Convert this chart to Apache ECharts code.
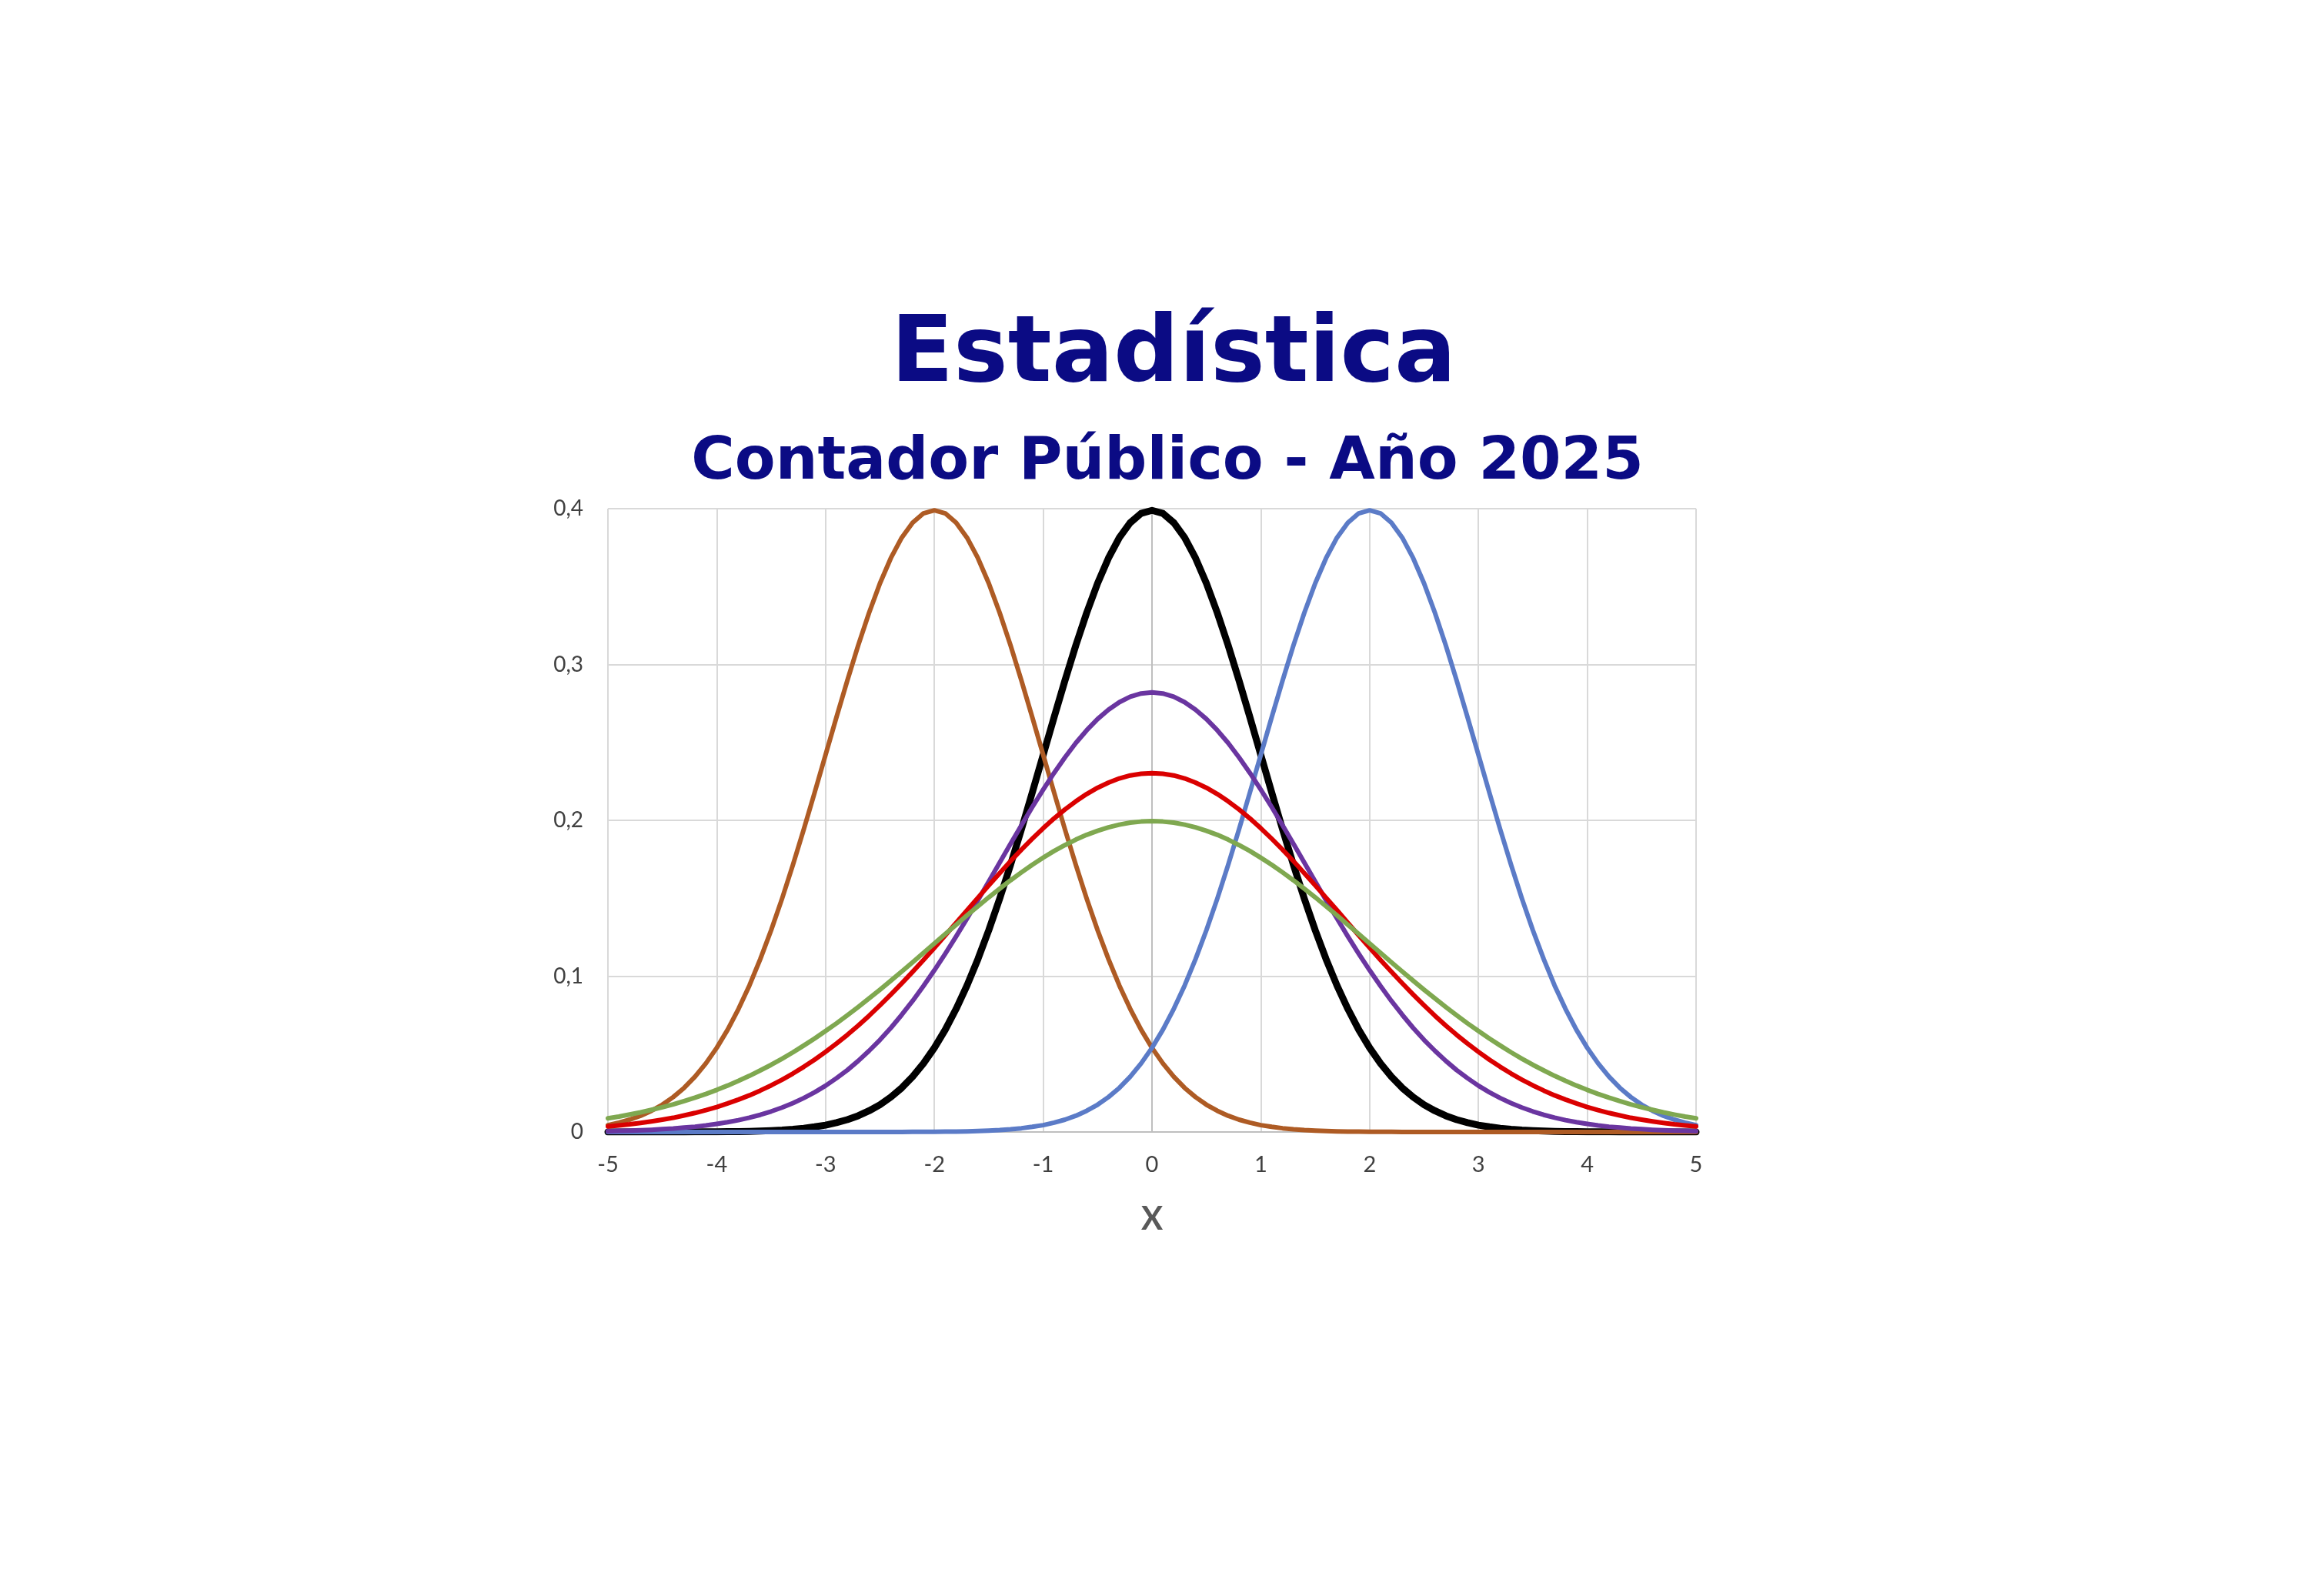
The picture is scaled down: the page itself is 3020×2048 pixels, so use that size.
<!DOCTYPE html>
<html>
<head>
<meta charset="utf-8">
<style>
html,body{margin:0;padding:0;background:#ffffff;}
#chart{width:3020px;height:2048px;}
</style>
<script src="https://cdn.jsdelivr.net/npm/echarts@6/dist/echarts.min.js"></script>
</head>
<body>
<div id="chart"></div>
<script>
// x values (step 0.1)
var xValues = [-5,-4.9,-4.8,-4.7,-4.6,-4.5,-4.4,-4.3,-4.2,-4.1,
-4,-3.9,-3.8,-3.7,-3.6,-3.5,-3.4,-3.3,-3.2,-3.1,
-3,-2.9,-2.8,-2.7,-2.6,-2.5,-2.4,-2.3,-2.2,-2.1,
-2,-1.9,-1.8,-1.7,-1.6,-1.5,-1.4,-1.3,-1.2,-1.1,
-1,-0.9,-0.8,-0.7,-0.6,-0.5,-0.4,-0.3,-0.2,-0.1,
0,
0.1,0.2,0.3,0.4,0.5,0.6,0.7,0.8,0.9,1,
1.1,1.2,1.3,1.4,1.5,1.6,1.7,1.8,1.9,2,
2.1,2.2,2.3,2.4,2.5,2.6,2.7,2.8,2.9,3,
3.1,3.2,3.3,3.4,3.5,3.6,3.7,3.8,3.9,4,
4.1,4.2,4.3,4.4,4.5,4.6,4.7,4.8,4.9,5];

// black curve (mean 0)
var blackValues = [0,0,0,0,0,0,0,0,0.0001,0.0001,
0.0001,0.0002,0.0003,0.0004,0.0006,0.0009,0.0012,0.0017,0.0024,0.0033,
0.0044,0.0060,0.0079,0.0104,0.0136,0.0175,0.0224,0.0283,0.0355,0.0440,
0.0540,0.0656,0.0790,0.0940,0.1109,0.1295,0.1497,0.1714,0.1942,0.2179,
0.2420,0.2661,0.2897,0.3123,0.3332,0.3521,0.3683,0.3814,0.3910,0.3970,
0.3989,
0.3970,0.3910,0.3814,0.3683,0.3521,0.3332,0.3123,0.2897,0.2661,0.2420,
0.2179,0.1942,0.1714,0.1497,0.1295,0.1109,0.0940,0.0790,0.0656,0.0540,
0.0440,0.0355,0.0283,0.0224,0.0175,0.0136,0.0104,0.0079,0.0060,0.0044,
0.0033,0.0024,0.0017,0.0012,0.0009,0.0006,0.0004,0.0003,0.0002,0.0001,
0.0001,0.0001,0,0,0,0,0,0,0,0];

// brown curve (peak at -2)
var brownValues = [0.0044,0.0060,0.0079,0.0104,0.0136,0.0175,0.0224,0.0283,0.0355,0.0440,
0.0540,0.0656,0.0790,0.0940,0.1109,0.1295,0.1497,0.1714,0.1942,0.2179,
0.2420,0.2661,0.2897,0.3123,0.3332,0.3521,0.3683,0.3814,0.3910,0.3970,
0.3989,
0.3970,0.3910,0.3814,0.3683,0.3521,0.3332,0.3123,0.2897,0.2661,0.2420,
0.2179,0.1942,0.1714,0.1497,0.1295,0.1109,0.0940,0.0790,0.0656,0.0540,
0.0440,0.0355,0.0283,0.0224,0.0175,0.0136,0.0104,0.0079,0.0060,0.0044,
0.0033,0.0024,0.0017,0.0012,0.0009,0.0006,0.0004,0.0003,0.0002,0.0001,
0.0001,0.0001,0,0,0,0,0,0,0,0,
0,0,0,0,0,0,0,0,0,0,
0,0,0,0,0,0,0,0,0,0];

// blue curve (peak at 2)
var blueValues = [0,0,0,0,0,0,0,0,0,0,
0,0,0,0,0,0,0,0,0,0,
0,0,0,0,0,0,0,0,0.0001,0.0001,
0.0001,0.0002,0.0003,0.0004,0.0006,0.0009,0.0012,0.0017,0.0024,0.0033,
0.0044,0.0060,0.0079,0.0104,0.0136,0.0175,0.0224,0.0283,0.0355,0.0440,
0.0540,0.0656,0.0790,0.0940,0.1109,0.1295,0.1497,0.1714,0.1942,0.2179,
0.2420,0.2661,0.2897,0.3123,0.3332,0.3521,0.3683,0.3814,0.3910,0.3970,
0.3989,
0.3970,0.3910,0.3814,0.3683,0.3521,0.3332,0.3123,0.2897,0.2661,0.2420,
0.2179,0.1942,0.1714,0.1497,0.1295,0.1109,0.0940,0.0790,0.0656,0.0540,
0.0440,0.0355,0.0283,0.0224,0.0175,0.0136,0.0104,0.0079,0.0060,0.0044];

// purple curve (peak 0.282)
var purpleValues = [0.0005,0.0007,0.0009,0.0011,0.0014,0.0018,0.0022,0.0028,0.0034,0.0042,
0.0052,0.0063,0.0076,0.0092,0.0110,0.0132,0.0157,0.0185,0.0218,0.0255,
0.0297,0.0345,0.0397,0.0456,0.0521,0.0591,0.0668,0.0752,0.0841,0.0937,
0.1038,0.1144,0.1255,0.1370,0.1487,0.1607,0.1728,0.1849,0.1968,0.2085,
0.2197,0.2304,0.2404,0.2496,0.2578,0.2650,0.2710,0.2758,0.2793,0.2814,
0.2821,
0.2814,0.2793,0.2758,0.2710,0.2650,0.2578,0.2496,0.2404,0.2304,0.2197,
0.2085,0.1968,0.1849,0.1728,0.1607,0.1487,0.1370,0.1255,0.1144,0.1038,
0.0937,0.0841,0.0752,0.0668,0.0591,0.0521,0.0456,0.0397,0.0345,0.0297,
0.0255,0.0218,0.0185,0.0157,0.0132,0.0110,0.0092,0.0076,0.0063,0.0052,
0.0042,0.0034,0.0028,0.0022,0.0018,0.0014,0.0011,0.0009,0.0007,0.0005];

// red curve (peak 0.23)
var redValues = [0.0036,0.0042,0.0049,0.0058,0.0068,0.0079,0.0091,0.0106,0.0122,0.0140,
0.0160,0.0183,0.0208,0.0235,0.0266,0.0299,0.0335,0.0375,0.0418,0.0464,
0.0514,0.0567,0.0623,0.0683,0.0746,0.0813,0.0882,0.0954,0.1028,0.1104,
0.1182,0.1262,0.1342,0.1423,0.1503,0.1583,0.1661,0.1738,0.1812,0.1882,
0.1949,0.2012,0.2070,0.2122,0.2169,0.2209,0.2242,0.2269,0.2288,0.2299,
0.2303,
0.2299,0.2288,0.2269,0.2242,0.2209,0.2169,0.2122,0.2070,0.2012,0.1949,
0.1882,0.1812,0.1738,0.1661,0.1583,0.1503,0.1423,0.1342,0.1262,0.1182,
0.1104,0.1028,0.0954,0.0882,0.0813,0.0746,0.0683,0.0623,0.0567,0.0514,
0.0464,0.0418,0.0375,0.0335,0.0299,0.0266,0.0235,0.0208,0.0183,0.0160,
0.0140,0.0122,0.0106,0.0091,0.0079,0.0068,0.0058,0.0049,0.0042,0.0036];

// green curve (peak 0.1995)
var greenValues = [0.0088,0.0099,0.0112,0.0126,0.0142,0.0159,0.0177,0.0198,0.0220,0.0244,
0.0270,0.0298,0.0328,0.0360,0.0395,0.0431,0.0470,0.0511,0.0555,0.0600,
0.0648,0.0697,0.0749,0.0802,0.0857,0.0913,0.0971,0.1030,0.1089,0.1149,
0.1210,0.1270,0.1330,0.1390,0.1448,0.1506,0.1561,0.1615,0.1666,0.1715,
0.1760,0.1803,0.1841,0.1876,0.1907,0.1933,0.1955,0.1972,0.1985,0.1992,
0.1995,
0.1992,0.1985,0.1972,0.1955,0.1933,0.1907,0.1876,0.1841,0.1803,0.1760,
0.1715,0.1666,0.1615,0.1561,0.1506,0.1448,0.1390,0.1330,0.1270,0.1210,
0.1149,0.1089,0.1030,0.0971,0.0913,0.0857,0.0802,0.0749,0.0697,0.0648,
0.0600,0.0555,0.0511,0.0470,0.0431,0.0395,0.0360,0.0328,0.0298,0.0270,
0.0244,0.0220,0.0198,0.0177,0.0159,0.0142,0.0126,0.0112,0.0099,0.0088];

var titleText = 'Estadística';
var subtitleText = 'Contador Público - Año 2025';
var xAxisName = 'X';

function pairs(ys) {
  return xValues.map(function (x, i) { return [x, ys[i]]; });
}

function lineSeries(name, ys, color, width) {
  return {
    name: name,
    type: 'line',
    data: pairs(ys),
    showSymbol: false,
    symbol: 'none',
    smooth: false,
    lineStyle: { color: color, width: width, join: 'round', cap: 'round' },
    itemStyle: { color: color },
    emphasis: { disabled: true },
    animation: false
  };
}

var chart = echarts.init(document.getElementById('chart'), null, { renderer: 'canvas' });
chart.setOption({
  backgroundColor: '#ffffff',
  animation: false,
  title: [
    {
      text: titleText,
      left: 1525,
      top: 405,
      textAlign: 'center',
      padding: 0,
      textStyle: { fontFamily: 'DejaVu Sans', fontWeight: 'bold', fontSize: 119, color: '#0B0B84' }
    },
    {
      text: subtitleText,
      left: 1517,
      top: 563,
      textAlign: 'center',
      padding: 0,
      textStyle: { fontFamily: 'DejaVu Sans', fontWeight: 'bold', fontSize: 77, color: '#0B0B84' }
    }
  ],
  grid: { left: 790, right: 816, top: 661, bottom: 577, containLabel: false },
  xAxis: {
    type: 'value',
    min: -5,
    max: 5,
    interval: 1,
    name: xAxisName,
    nameLocation: 'middle',
    nameGap: 92,
    nameTextStyle: { fontFamily: 'Lato', fontWeight: 'bold', fontSize: 42, color: '#595959' },
    axisLine: { show: true, onZero: false, lineStyle: { color: '#BFBFBF', width: 2 } },
    axisTick: { show: false },
    axisLabel: { margin: 28, fontFamily: 'Lato', fontSize: 29, color: '#404040' },
    splitLine: { show: true, lineStyle: { color: '#D9D9D9', width: 2 } }
  },
  yAxis: {
    type: 'value',
    min: 0,
    max: 0.4,
    interval: 0.1,
    axisLine: { show: true, lineStyle: { color: '#BFBFBF', width: 2 } },
    axisTick: { show: false },
    axisLabel: {
      margin: 32,
      fontFamily: 'Lato',
      fontSize: 28,
      color: '#404040',
      formatter: function (v) { return String(Math.round(v * 10) / 10).replace('.', ','); }
    },
    splitLine: { show: true, lineStyle: { color: '#D9D9D9', width: 2 } }
  },
  series: [
    lineSeries('N(0,1)', blackValues, '#000000', 9),
    lineSeries('N(-2,1)', brownValues, '#AE5B24', 6),
    lineSeries('N(2,1)', blueValues, '#5B7BC7', 6),
    lineSeries('purple', purpleValues, '#6A35A0', 6),
    lineSeries('red', redValues, '#DA0000', 6),
    lineSeries('green', greenValues, '#7FA850', 6)
  ]
});
</script>
</body>
</html>
